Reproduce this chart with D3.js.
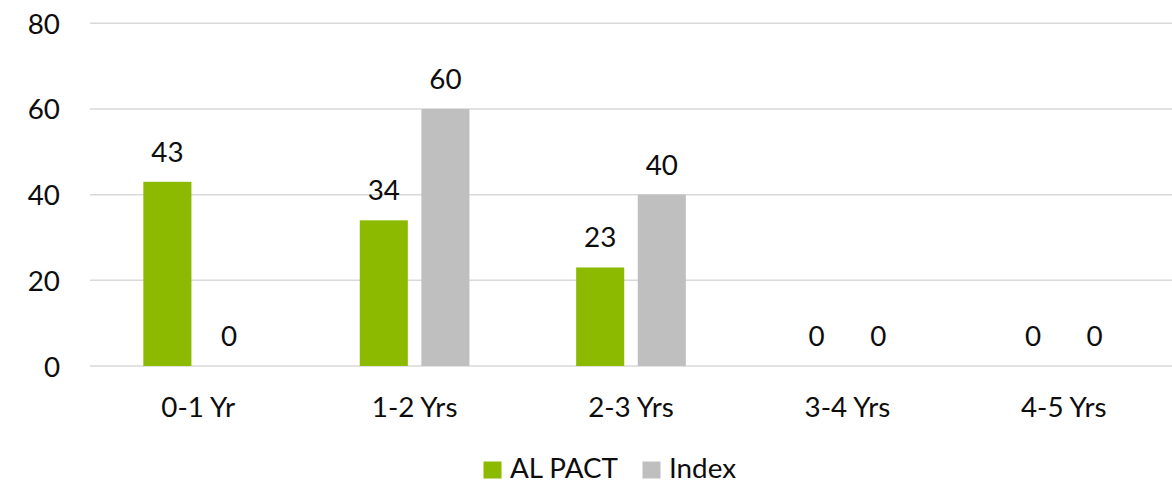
<!DOCTYPE html>
<html>
<head>
<meta charset="utf-8">
<script src="https://cdn.jsdelivr.net/npm/d3@7"></script>
<style>
  html, body { margin: 0; padding: 0; background: #fff; }
  svg text { font-family: Lato, "Open Sans", sans-serif; fill: #0d0d0d; }
</style>
</head>
<body>
<svg id="chart" width="1172" height="483"></svg>
<script>
// Holding-period buckets and the share (%) in each, for the fund and its index
const categories = ["0-1 Yr", "1-2 Yrs", "2-3 Yrs", "3-4 Yrs", "4-5 Yrs"];
const seriesNames = ["AL PACT", "Index"];
const alPact = [43, 34, 23, 0, 0];
const indexVals = [0, 60, 40, 0, 0];
const yTicks = [0, 20, 40, 60, 80];
const colors = ["#8bba00", "#bfbfbf"];

const svg = d3.select("#chart");
const plotLeft = 90, plotRight = 1172, plotTop = 23.3, plotBottom = 366;
const fontSize = 27.8;

const y = d3.scaleLinear().domain([0, 80]).range([plotBottom, plotTop]);
const x0 = d3.scaleBand().domain(categories).range([plotLeft, plotRight]).paddingInner(0).paddingOuter(0);
const x1 = d3.scaleBand().domain(seriesNames).range([0, x0.bandwidth()])
  .paddingInner(0.22).paddingOuter(0.866);

// Horizontal gridlines
svg.append("g").selectAll("line").data(yTicks).join("line")
  .attr("x1", plotLeft).attr("x2", plotRight)
  .attr("y1", d => y(d)).attr("y2", d => y(d))
  .attr("stroke", "#d9d9d9").attr("stroke-width", 1.5);

// Y axis labels (no domain line, no ticks)
const yAxis = d3.axisLeft(y).tickValues(yTicks).tickSize(0).tickPadding(0);
const yg = svg.append("g").attr("transform", `translate(60,0)`).call(yAxis);
yg.select(".domain").remove();
yg.selectAll("text").attr("font-size", fontSize).attr("font-family", null)
  .attr("dy", "0.36em");

// X axis labels
const xAxis = d3.axisBottom(x0).tickSize(0).tickPadding(0);
const xg = svg.append("g").attr("transform", `translate(0,${plotBottom})`).call(xAxis);
xg.select(".domain").remove();
xg.selectAll("text").attr("font-size", fontSize).attr("font-family", null)
  .attr("dy", null).attr("y", 50.5);

// Bars and value labels
const rows = categories.map((c, i) => ({ cat: c, vals: [alPact[i], indexVals[i]] }));
const groups = svg.append("g").selectAll("g").data(rows).join("g")
  .attr("transform", d => `translate(${x0(d.cat)},0)`);

groups.selectAll("rect").data(d => d.vals.map((v, j) => ({ s: seriesNames[j], v, j })))
  .join("rect")
  .attr("x", d => x1(d.s))
  .attr("width", x1.bandwidth())
  .attr("y", d => y(d.v))
  .attr("height", d => y(0) - y(d.v))
  .attr("fill", d => colors[d.j]);

groups.selectAll("text").data(d => d.vals.map((v, j) => ({ s: seriesNames[j], v, j })))
  .join("text")
  .attr("x", d => x1(d.s) + x1.bandwidth() / 2)
  .attr("y", d => y(d.v) - 20)
  .attr("text-anchor", "middle")
  .attr("font-size", fontSize)
  .text(d => d.v);

// Legend
const legend = svg.append("g");
const legendItems = [{ name: seriesNames[0], x: 483.5 }, { name: seriesNames[1], x: 642.5 }];
legendItems.forEach((it, j) => {
  legend.append("rect").attr("x", it.x).attr("y", 461.5).attr("width", 18).attr("height", 17)
    .attr("fill", colors[j]);
  legend.append("text").attr("x", it.x + 26.5).attr("y", 477.5)
    .attr("font-size", fontSize).text(it.name);
});
</script>
</body>
</html>
